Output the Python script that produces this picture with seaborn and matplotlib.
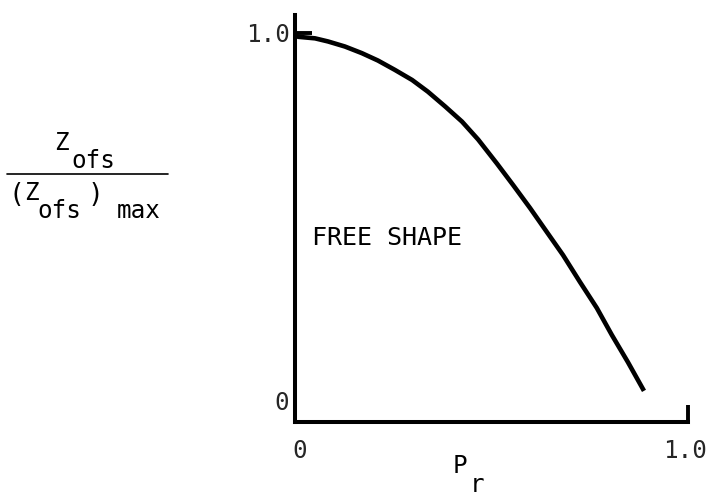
import matplotlib
matplotlib.use("Agg")
import matplotlib.pyplot as plt
import matplotlib.transforms as mtransforms
import seaborn as sns
import pandas as pd

# Normalized free-shape ordinate versus radial position
pr = [0.0, 0.008, 0.051, 0.084, 0.127, 0.170, 0.211, 0.254, 0.298, 0.338,
      0.382, 0.425, 0.466, 0.514, 0.555, 0.598, 0.641, 0.682, 0.725, 0.768,
      0.806, 0.847, 0.888]
z_ratio = [0.995, 0.990, 0.986, 0.978, 0.965, 0.948, 0.929, 0.905, 0.879,
           0.849, 0.811, 0.772, 0.726, 0.664, 0.609, 0.550, 0.488, 0.429,
           0.360, 0.293, 0.224, 0.154, 0.080]
x_ticks = [0.0, 1.0]
x_tick_labels = ["0", "1.0"]
y_ticks = [0.0, 1.0]
y_tick_labels = ["0", "1.0"]

sns.set_style("white")
plt.rcParams["font.family"] = ["DejaVu Sans Mono", "DejaVu Sans"]

W, H = 713, 499
fig = plt.figure(figsize=(W / 100, H / 100), dpi=100)
ax = fig.add_axes([295 / W, 77 / H, 393 / W, 407 / H])

df = pd.DataFrame({"pr": pr, "z": z_ratio})
sns.lineplot(data=df, x="pr", y="z", ax=ax, sort=False, color="black",
             linewidth=3.3, solid_capstyle="butt", solid_joinstyle="round",
             clip_on=False)

ax.set_xlim(0, 1.0)
ax.set_ylim(0, 1.046)
ax.set_xlabel("")
ax.set_ylabel("")

for side in ("top", "right"):
    ax.spines[side].set_visible(False)
for side in ("left", "bottom"):
    ax.spines[side].set_linewidth(2.9)
    ax.spines[side].set_color("black")
    ax.spines[side].set_capstyle("projecting")

ax.set_xticks(x_ticks)
ax.set_xticklabels(x_tick_labels)
ax.set_yticks(y_ticks)
ax.set_yticklabels(y_tick_labels)
ax.tick_params(axis="both", direction="in", length=12, width=2.8,
               color="black", labelsize=17.5, bottom=True, left=True)
ax.tick_params(axis="x", pad=12)
ax.tick_params(axis="y", pad=4)

# nudge the lower y label upward and the x labels sideways
off = mtransforms.ScaledTranslation(0, 22 / 100, fig.dpi_scale_trans)
ax.get_yticklabels()[0].set_transform(ax.get_yticklabels()[0].get_transform() + off)
offx0 = mtransforms.ScaledTranslation(5 / 100, 0, fig.dpi_scale_trans)
ax.get_xticklabels()[0].set_transform(ax.get_xticklabels()[0].get_transform() + offx0)
offx1 = mtransforms.ScaledTranslation(-3 / 100, 0, fig.dpi_scale_trans)
ax.get_xticklabels()[1].set_transform(ax.get_xticklabels()[1].get_transform() + offx1)


def ftext(x, y, s, size=17.5, **kw):
    fig.text(x / W, 1 - y / H, s, fontsize=size, ha="left", va="baseline",
             color="black", **kw)


# y-axis label as a stacked fraction
ftext(54, 150, "Z")
ftext(71, 168, "ofs")
fig.add_artist(plt.Line2D([7 / W, 168 / W], [1 - 174 / H, 1 - 174 / H],
                          color="black", linewidth=1.2))
ftext(8, 202, "(", size=19)
ftext(24, 200, "Z")
ftext(37, 218, "ofs")
ftext(88, 202, ")", size=19)
ftext(117, 218, "max")

# x-axis label
ftext(453, 473, "P")
ftext(470, 492, "r")

# annotation inside the plot
ftext(312, 245, "FREE SHAPE", size=18)

fig.savefig("out.png", dpi=100, facecolor="white")
